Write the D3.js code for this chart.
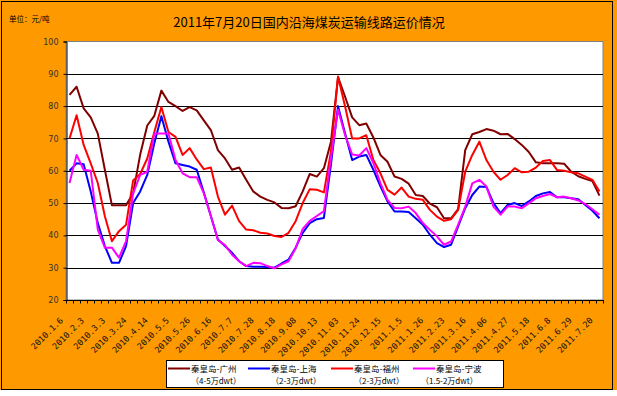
<!DOCTYPE html>
<html>
<head>
<meta charset="utf-8">
<script src="https://cdn.jsdelivr.net/npm/d3@7"></script>
<style>
  body { margin: 0; background: #fff; }
  svg { display: block; }
</style>
</head>
<body>
<div id="app"></div>
<script>
// x tick labels, one every 3 weekly categories
const tickLabels = ['2010.1.6', '2010.2.3', '2010.3.3', '2010.3.24', '2010.4.14', '2010.5.5',
  '2010.5.26', '2010.6.16', '2010.7.7', '2010.7.28', '2010.8.18', '2010.9.08', '2010.10.13',
  '2010.11.03', '2010.11.24', '2010.12.15', '2011.1.5', '2011.1.26', '2011.2.23', '2011.3.16',
  '2011.4.06', '2011.4.27', '2011.5.18', '2011.6.8', '2011.6.29', '2011.7.20']
const labelStep = 3

// freight rates, yuan / ton
const guangzhou = [83.5, 86, 79.3, 76.5, 71.5, 60.3, 49.3, 49.3, 49.3, 53, 65, 74, 77, 84.8, 81.3, 80,
  78.5, 79.7, 78.7, 75.6, 72.6, 66.4, 63.8, 60.3, 61, 57.2, 53.6, 52, 51, 50.2, 48.5, 48.4, 49, 53.6,
  59, 58.2, 60.8, 69, 89, 82.9, 76.5, 74.1, 74.6, 70.3, 64.9, 62.8, 58.2, 57.5, 56, 52.5, 52.2, 49.8,
  48.7, 45.3, 45.3, 48.1, 66.4, 71.3, 72, 72.9, 72.4, 71.3, 71.4, 69.8, 68, 65.8, 62.6, 62.3, 62.3,
  62.3, 62.2, 59.7, 58.3, 57.5, 56.8, 52.3]
const shanghai = [60, 62.3, 62, 53.6, 43.8, 36.7, 31.5, 31.5, 36.7, 50, 53.6, 58.7, 68.5, 76.9, 69,
  62.3, 61.8, 61.3, 60.3, 53.3, 46, 38.7, 36.7, 34.6, 32, 30.5, 30.3, 30.3, 30.2, 30, 31.3, 32.5, 36.2,
  40.8, 43.8, 45, 45.4, 62, 80, 71.5, 63.3, 64.4, 64.9, 60.3, 55.2, 50.5, 47.4, 47.4, 47.2, 45.3, 43.3,
  40.2, 37.6, 36.4, 37.1, 42.8, 48.4, 52.5, 55.1, 55, 50, 46.9, 49.4, 50, 49.1, 50.5, 52.2, 53, 53.4,
  51.8, 51.8, 51.5, 51.2, 49.4, 47.6, 45.3]
const fuzhou = [70, 77.2, 68, 62.3, 56.2, 45.9, 38.2, 41.3, 43.3, 57, 59, 63.8, 72, 79.7, 72, 70.5,
  64.9, 67, 63.5, 60.5, 61, 52, 46.4, 49.2, 44.4, 41.8, 41.6, 40.8, 40.6, 39.8, 39.5, 40.8, 44.4, 50,
  54.3, 54.1, 53.3, 66, 89.2, 79.9, 70, 70, 71, 63.3, 59.2, 54.1, 52.6, 54.8, 52, 51.3, 51, 47.9, 45.8,
  44.5, 45, 47.9, 59.7, 64.9, 69, 63.3, 59.7, 57.2, 58.7, 60.8, 59.5, 59.7, 61, 63, 63.3, 60.2, 60,
  59.5, 59.2, 58.2, 57.2, 53.6]
const ningbo = [56.2, 64.9, 60.3, 60, 41.8, 36.2, 36.2, 33.1, 38.2, 53, 58.7, 59.7, 71.5, 71.5, 71.5,
  63.3, 59.2, 58, 58, 53.1, 46, 38.5, 37, 34, 32, 30.5, 31.5, 31.4, 30.5, 29.8, 31, 32, 36, 42, 44.5,
  46, 47.5, 64, 78.9, 71, 65, 64.7, 67, 62.4, 56.2, 51, 48.5, 48.4, 48.9, 46.9, 43.8, 41.7, 39.7, 37.1,
  38.1, 43.3, 48.9, 56.1, 57.2, 55.1, 48.9, 46.4, 48.9, 48.9, 48.4, 49.9, 51.5, 52.2, 52.8, 51.8, 52,
  51.5, 50.8, 49.7, 48.1, 46.4]

const seriesNames = ['秦皇岛-广州', '秦皇岛-上海', '秦皇岛-福州', '秦皇岛-宁波']
const seriesSizes = ['（4-5万dwt）', '（2-3万dwt）', '（2-3万dwt）', '（1.5-2万dwt）']
const seriesColors = ['#800000', '#0000ff', '#ff0000', '#ff00ff']
const yTicks = [20, 30, 40, 50, 60, 70, 80, 90, 100]

const series = [guangzhou, shanghai, fuzhou, ningbo]
const W = 617, H = 396
const plot = { left: 66, right: 603, top: 41.5, bottom: 300 }

const svg = d3.select('#app').append('svg').attr('width', W).attr('height', H)

// chart area
svg.append('rect').attr('x', 0).attr('y', 0).attr('width', W).attr('height', 390).attr('fill', '#ff9900')
svg.append('rect').attr('x', 1.5).attr('y', 1.5).attr('width', 611).attr('height', 388)
  .attr('fill', 'none').attr('stroke', '#000')

svg.append('text').attr('x', 309).attr('y', 27).attr('text-anchor', 'middle')
  .style('font', '13px "Noto Sans CJK SC"').attr('fill', '#000')
  .text('2011年7月20日国内沿海煤炭运输线路运价情况')
svg.append('text').attr('x', 9).attr('y', 22)
  .style('font', '7.5px "Noto Sans CJK SC"').attr('fill', '#000')
  .text('单位：元/吨')

// scales
const idx = guangzhou.map((d, i) => i)
const x = d3.scaleBand().domain(idx).range([plot.left, plot.right])
const y = d3.scaleLinear().domain([20, 100]).range([plot.bottom, plot.top])
const cx = (i) => x(i) + x.bandwidth() / 2

// plot area
svg.append('rect').attr('x', plot.left).attr('y', plot.top)
  .attr('width', plot.right - plot.left).attr('height', plot.bottom - plot.top)
  .attr('fill', '#fff').attr('stroke', '#808080')

svg.append('g').selectAll('line').data(yTicks.slice(1, -1)).join('line')
  .attr('x1', plot.left).attr('x2', plot.right)
  .attr('y1', (d) => Math.round(y(d)) + 0.5).attr('y2', (d) => Math.round(y(d)) + 0.5)
  .attr('stroke', '#000')

// y axis
const yAxis = svg.append('g').attr('transform', `translate(${plot.left + 0.5},0)`)
  .call(d3.axisLeft(y).tickValues(yTicks).tickSize(3).tickPadding(5))
yAxis.select('.domain').attr('stroke', '#000')
yAxis.selectAll('text').style('font', '8px "DejaVu Sans"').attr('fill', '#333')

// x axis: tick marks on category boundaries
const bounds = idx.map((i) => x(i)).concat([plot.right])
svg.append('line').attr('x1', plot.left).attr('x2', plot.right)
  .attr('y1', plot.bottom + 0.5).attr('y2', plot.bottom + 0.5).attr('stroke', '#000')
svg.append('g').selectAll('line').data(bounds).join('line')
  .attr('x1', (d) => Math.round(d) + 0.5).attr('x2', (d) => Math.round(d) + 0.5)
  .attr('y1', plot.bottom).attr('y2', plot.bottom + 3.5).attr('stroke', '#000')

svg.append('g').selectAll('text').data(tickLabels).join('text')
  .attr('transform', (d, i) => `translate(${cx(i * labelStep) - 6},${plot.bottom + 21}) rotate(-45)`)
  .attr('text-anchor', 'end')
  .style('font', '8.5px "DejaVu Sans Mono"').attr('fill', '#111')
  .text((d) => d)

// lines
const line = d3.line().x((d, i) => cx(i)).y((d) => y(d))
svg.append('g').selectAll('path').data(series).join('path')
  .attr('d', line).attr('fill', 'none')
  .attr('stroke', (d, i) => seriesColors[i]).attr('stroke-width', 2)
  .attr('stroke-linejoin', 'round')

// legend
const legend = svg.append('g')
legend.append('rect').attr('x', 166.5).attr('y', 360.5).attr('width', 337).attr('height', 27)
  .attr('fill', '#fff').attr('stroke', '#000')
const legendX = [168, 248, 331, 413]
const item = legend.selectAll('g').data(seriesNames).join('g')
  .attr('transform', (d, i) => `translate(${legendX[i]},0)`)
item.append('line').attr('x1', 0).attr('x2', 22).attr('y1', 368.5).attr('y2', 368.5)
  .attr('stroke', (d, i) => seriesColors[i]).attr('stroke-width', 2)
item.append('text').attr('x', 23).attr('y', 371.5)
  .style('font', '8.5px "Noto Sans CJK SC"').attr('fill', '#000').text((d) => d)
item.append('text').attr('x', (d, i) => (i === 3 ? 8 : 23)).attr('y', 384)
  .style('font', '8px "Noto Sans CJK SC"').attr('fill', '#000').text((d, i) => seriesSizes[i])
</script>
</body>
</html>
